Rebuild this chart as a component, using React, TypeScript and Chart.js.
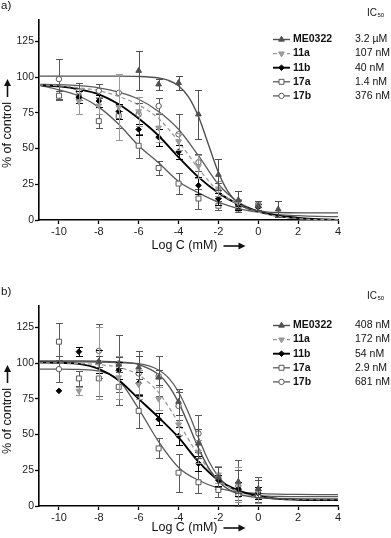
import React, { useEffect, useRef } from 'react';
import { Chart, registerables } from 'chart.js';

Chart.register(...registerables);

const FONT = '"Liberation Sans", Arial, Helvetica, sans-serif';

// ---------- shared axis / category data ----------
const SERIES_NAMES = ['ME0322', '11a', '11b', '17a', '17b'];
const X_TICKS = [-10, -8, -6, -4, -2, 0, 2, 4];
const Y_TICKS = [0, 25, 50, 75, 100, 125];
const PT_X = [-10, -9, -8, -7, -6, -5, -4, -3, -2, -1, 0, 1];
const CURVE_X = [-11, -10, -9, -8, -7, -6, -5, -4, -3, -2, -1, 0, 1, 2, 3, 4];
const FINE_X = [-11, -10, -9, -8, -7, -6, -5, -4.5, -4, -3.5, -3, -2.5, -2, -1.5, -1, -0.5, 0, 0.5, 1, 2, 3, 4];

// ---------- panel a ----------
const A_IC50 = ['3.2 µM', '107 nM', '40 nM', '1.4 nM', '376 nM'];
const A_ME_CURVE = [100.7, 100.7, 100.7, 100.7, 100.7, 100.5, 99.4, 97.7, 94, 86.2, 72.4, 52.9, 33.3, 19.5, 11.7, 7.9, 6.3, 5.5, 5.2, 5, 5, 5];
const A_11A_CURVE = [94.5, 94, 92.5, 90.5, 86.5, 80.5, 71, 55, 36, 20, 11, 5.5, 2.5, 1, 0.3, 0];
const A_11B_CURVE = [94.4, 93.5, 91.5, 88, 81, 71, 59, 44, 30, 19, 11, 6, 3, 1.5, 0.5, 0];
const A_17A_CURVE = [94.4, 91, 86.8, 79, 67, 52, 40, 27, 19, 12.5, 8, 5.5, 3.8, 3, 2.5, 2.3];
const A_17B_CURVE = [95, 94.7, 94, 92.5, 89.5, 84.5, 76, 63.5, 45, 25, 12.5, 6, 2.5, 1, 0.3, 0];

const A_ME = [null, null, null, null, 104.5, 95, 96, 74, 31.7, 14, 10, 7.5];
const A_ME_ERR = [0, 0, 0, 0, 13.5, 4, 5, 17, 11, 6, 3, 5.6];
const A_11A = [null, 83, 80, 79, 76, 64.6, 55, 37.6, 22, 12, 10, null];
const A_11A_ERR = [0, 9, 6, 23, 10, 10, 6, 8, 5, 3, 3, 0];
const A_11B = [null, 86, 83.3, 76, 63.4, 58, 47.7, 24.2, 14.8, 9, 9, null];
const A_11B_ERR = [0, 4, 4, 5, 4, 6, 5, 6, 4, 2, 2, 0];
const A_17A = [87, 86, 69.2, 72.7, 52, 36.4, 25.5, 15, 10, 8, 10, null];
const A_17A_ERR = [3, 4, 5, 8, 8.5, 5, 7.6, 7, 3, 2.5, 3, 0];
const A_17B = [98.6, 90, 90.4, 89, 74, 79.8, 60, 40.4, 20.6, 11, 11, null];
const A_17B_ERR = [14, 6, 5, 13, 8, 5.5, 14, 6, 5, 3, 2, 0];

// ---------- panel b ----------
const B_IC50 = ['408 nM', '172 nM', '54 nM', '2.9 nM', '681 nM'];
const B_ME_CURVE = [101.6, 101.6, 101.5, 101.3, 100.9, 99, 92, 84.3, 72.5, 57, 40.5, 26.8, 17.3, 11.6, 8.4, 6.7, 5.9, 5.4, 5.2, 5, 5, 5];
const B_11A_CURVE = [100.2, 100.1, 99.8, 99, 97, 91.7, 79.4, 58.3, 35.5, 18.5, 10, 6.4, 5.2, 4.7, 4.5, 4.5];
const B_11B_CURVE = [100.5, 100.2, 99.5, 96, 88, 75, 62, 48, 31, 18, 11, 7, 5, 4.4, 4.2, 4.2];
const B_17A_CURVE = [95.8, 95.8, 95.6, 94.5, 88, 68, 45, 27, 18, 12.5, 9.8, 8.8, 8.3, 8.1, 8, 8];
const B_17B_CURVE = [101, 101, 100.9, 100.7, 100.3, 99.7, 95.2, 89.7, 79.8, 65.2, 47.8, 31.8, 20.5, 13.7, 10, 8.2, 7.3, 6.9, 6.7, 6.5, 6.5, 6.5];

const B_ME = [null, null, 101, 99, 97, 90, 73, 43.8, 20, 17, 12, null];
const B_ME_ERR = [0, 0, 4, 5, 8, 5, 9, 10, 7, 8, 6, 0];
const B_11A = [null, 80.6, 100, 90, 85, 75, 57, 38, 22, 15, 10, null];
const B_11A_ERR = [0, 3, 25, 15, 10, 8, 7, 8, 6, 12, 8, 0];
const B_11B = [80.6, 108, 101, 95, 86, 60.8, 49, 29.8, 18, 12, 9, null];
const B_11B_ERR = [0, 3, 8, 6, 8, 4, 6, 5, 4, 5, 4, 0];
const B_17A = [115, 89.3, 89.3, 83.4, 66.6, 40.3, 23.3, 16.6, 11.2, 8, 7, null];
const B_17A_ERR = [13, 5, 12, 13, 12, 7, 13.4, 7.6, 5, 4, 4, 0];
const B_17B = [95.8, null, 108.6, 99.8, 92.8, 90.9, 70, 50.8, 20, 14, 11, null];
const B_17B_ERR = [9, 0, 19, 20, 16, 14, 10, 13, 8, 18, 9, 0];

// ---------- styles ----------
type Style = { color: string; dash: number[]; width: number; point: string; rot: number; r: number; fill: string };
const STYLES: Style[] = [
  { color: '#505050', dash: [], width: 1.4, point: 'triangle', rot: 0, r: 3.3, fill: '#505050' },
  { color: '#9a9a9a', dash: [4, 3], width: 1.3, point: 'triangle', rot: 180, r: 3.3, fill: '#9a9a9a' },
  { color: '#000000', dash: [], width: 1.9, point: 'rectRot', rot: 0, r: 2.8, fill: '#000000' },
  { color: '#5a5a5a', dash: [], width: 1.3, point: 'rect', rot: 0, r: 3.5, fill: '#ffffff' },
  { color: '#5a5a5a', dash: [], width: 1.3, point: 'circle', rot: 0, r: 2.7, fill: '#ffffff' },
];

const PANELS = [
  {
    label: 'a)',
    ic50: A_IC50,
    curves: [A_ME_CURVE, A_11A_CURVE, A_11B_CURVE, A_17A_CURVE, A_17B_CURVE],
    curveXs: [FINE_X, CURVE_X, CURVE_X, CURVE_X, CURVE_X],
    points: [A_ME, A_11A, A_11B, A_17A, A_17B],
    errors: [A_ME_ERR, A_11A_ERR, A_11B_ERR, A_17A_ERR, A_17B_ERR],
    padTop: 20, xAxisH: 34, padBottom: 15, xTitleGap: 26, icGap: 7,
  },
  {
    label: 'b)',
    ic50: B_IC50,
    curves: [B_ME_CURVE, B_11A_CURVE, B_11B_CURVE, B_17A_CURVE, B_17B_CURVE],
    curveXs: [FINE_X, CURVE_X, CURVE_X, CURVE_X, FINE_X],
    points: [B_ME, B_11A, B_11B, B_17A, B_17B],
    errors: [B_ME_ERR, B_11A_ERR, B_11B_ERR, B_17A_ERR, B_17B_ERR],
    padTop: 37, xAxisH: 30, padBottom: 2, xTitleGap: 22, icGap: 10,
  },
];

function drawMarker(ctx: CanvasRenderingContext2D, s: Style, x: number, y: number) {
  ctx.save();
  ctx.fillStyle = s.fill;
  ctx.strokeStyle = s.color;
  ctx.lineWidth = 1;
  ctx.setLineDash([]);
  ctx.beginPath();
  const r = s.r;
  if (s.point === 'triangle') {
    const d = s.rot === 180 ? -1 : 1;
    ctx.moveTo(x, y - d * r);
    ctx.lineTo(x + r * 0.866, y + d * r * 0.5);
    ctx.lineTo(x - r * 0.866, y + d * r * 0.5);
    ctx.closePath();
  } else if (s.point === 'rectRot') {
    ctx.moveTo(x, y - r);
    ctx.lineTo(x + r, y);
    ctx.lineTo(x, y + r);
    ctx.lineTo(x - r, y);
    ctx.closePath();
  } else if (s.point === 'rect') {
    const h = r * Math.SQRT1_2;
    ctx.rect(x - h, y - h, 2 * h, 2 * h);
  } else {
    ctx.arc(x, y, r, 0, Math.PI * 2);
  }
  ctx.fill();
  ctx.stroke();
  ctx.restore();
}

function drawArrow(ctx: CanvasRenderingContext2D, x1: number, y: number, x2: number) {
  ctx.save();
  ctx.strokeStyle = '#111';
  ctx.fillStyle = '#111';
  ctx.lineWidth = 1.6;
  ctx.beginPath();
  ctx.moveTo(x1, y);
  ctx.lineTo(x2 - 5, y);
  ctx.stroke();
  ctx.beginPath();
  ctx.moveTo(x2, y);
  ctx.lineTo(x2 - 7, y - 3.5);
  ctx.lineTo(x2 - 7, y + 3.5);
  ctx.closePath();
  ctx.fill();
  ctx.restore();
}

const errorBarPlugin = {
  id: 'errbars',
  beforeDatasetDraw(chart: any, args: any) {
    const ds = chart.data.datasets[args.index];
    if (!ds.errors) return;
    const ctx: CanvasRenderingContext2D = chart.ctx;
    const xs = chart.scales.x;
    const ys = chart.scales.y;
    ctx.save();
    ctx.strokeStyle = ds.errColor;
    ctx.lineWidth = 1;
    ds.data.forEach((p: any, i: number) => {
      const e = ds.errors[i];
      if (!e) return;
      const px = Math.round(xs.getPixelForValue(p.x)) + 0.5;
      const y1 = Math.round(ys.getPixelForValue(p.y + e)) + 0.5;
      const y2 = Math.round(ys.getPixelForValue(Math.max(0, p.y - e))) + 0.5;
      ctx.beginPath();
      ctx.moveTo(px, y1);
      ctx.lineTo(px, y2);
      ctx.moveTo(px - 3.5, y1);
      ctx.lineTo(px + 3.5, y1);
      ctx.moveTo(px - 3.5, y2);
      ctx.lineTo(px + 3.5, y2);
      ctx.stroke();
    });
    ctx.restore();
  },
};

const decoPlugin = {
  id: 'deco',
  afterDraw(chart: any) {
    const o = chart.options.plugins.deco;
    const ctx: CanvasRenderingContext2D = chart.ctx;
    const ca = chart.chartArea;
    ctx.save();
    ctx.fillStyle = '#111';
    ctx.textBaseline = 'middle';
    ctx.textAlign = 'left';
    ctx.font = `11.5px ${FONT}`;
    ctx.fillText(o.label, 1, ca.top - 14);

    // x title
    ctx.font = `12.5px ${FONT}`;
    ctx.textAlign = 'center';
    const tx = (ca.left + ca.right) / 2 - 4;
    const ty = ca.bottom + o.xTitleGap;
    const xt = 'Log C (mM)';
    ctx.fillText(xt, tx, ty);
    const w = ctx.measureText(xt).width;
    drawArrow(ctx, tx + w / 2 + 6, ty, tx + w / 2 + 28);

    // y title
    ctx.save();
    ctx.translate(7.5, ca.bottom - 85);
    ctx.rotate(-Math.PI / 2);
    const yt = '% of control';
    ctx.fillText(yt, 0, 0);
    const wy = ctx.measureText(yt).width;
    drawArrow(ctx, wy / 2 + 5, 0, wy / 2 + 23);
    ctx.restore();

    // legend
    const rowY0 = ca.top + 19.5;
    SERIES_NAMES.forEach((name, i) => {
      const y = rowY0 + i * 14.1;
      const s = STYLES[i];
      ctx.save();
      ctx.strokeStyle = s.color;
      ctx.lineWidth = s.width;
      ctx.setLineDash(s.dash);
      ctx.beginPath();
      ctx.moveTo(273, y);
      ctx.lineTo(290, y);
      ctx.stroke();
      ctx.restore();
      drawMarker(ctx, s, 281.5, y);
      ctx.fillStyle = '#111';
      ctx.textAlign = 'left';
      ctx.font = `bold 10.5px ${FONT}`;
      ctx.fillText(name, 293, y);
      ctx.font = `10.5px ${FONT}`;
      ctx.fillText(o.ic50[i], 355, y);
    });

    // IC50 header
    ctx.font = `10px ${FONT}`;
    ctx.textAlign = 'left';
    const iy = ca.top - o.icGap;
    ctx.fillText('IC', 367, iy);
    const icw = ctx.measureText('IC').width;
    ctx.font = `6px ${FONT}`;
    ctx.fillText('50', 367 + icw + 0.5, iy + 2.5);
    ctx.restore();
  },
};

function Panel({ cfg, top }: { cfg: any; top: number }) {
  const ref = useRef<HTMLCanvasElement>(null);
  useEffect(() => {
    const datasets: any[] = [];
    cfg.points.forEach((vals: (number | null)[], i: number) => {
      const s = STYLES[i];
      const data: any[] = [];
      const errs: number[] = [];
      PT_X.forEach((x, j) => {
        const v = vals[j];
        if (v != null) {
          data.push({ x, y: v });
          errs.push(cfg.errors[i][j]);
        }
      });
      datasets.push({
        type: 'scatter',
        label: SERIES_NAMES[i],
        data,
        errors: errs,
        errColor: s.color,
        showLine: false,
        pointStyle: s.point,
        pointRotation: s.rot,
        pointRadius: s.r,
        pointBackgroundColor: s.fill,
        pointBorderColor: s.color,
        pointBorderWidth: 1,
        borderColor: s.color,
        backgroundColor: s.fill,
      });
    });
    cfg.curves.forEach((vals: number[], i: number) => {
      const s = STYLES[i];
      const xs: number[] = cfg.curveXs[i];
      datasets.push({
        type: 'line',
        label: SERIES_NAMES[i] + ' fit',
        data: xs.map((x, j) => ({ x, y: vals[j] })),
        borderColor: s.color,
        borderWidth: s.width,
        borderDash: s.dash,
        pointRadius: 0,
        fill: false,
        cubicInterpolationMode: 'monotone',
      });
    });

    const chart = new Chart(ref.current as HTMLCanvasElement, {
      type: 'scatter',
      data: { datasets },
      plugins: [errorBarPlugin, decoPlugin],
      options: {
        animation: false,
        responsive: false,
        devicePixelRatio: 1,
        layout: { padding: { left: 0, right: 53, top: cfg.padTop, bottom: cfg.padBottom } },
        plugins: {
          legend: { display: false },
          tooltip: { enabled: false },
          deco: { label: cfg.label, ic50: cfg.ic50, xTitleGap: cfg.xTitleGap, icGap: cfg.icGap },
        } as any,
        scales: {
          x: {
            type: 'linear',
            min: -11,
            max: 4,
            afterBuildTicks: (scale: any) => {
              scale.ticks = X_TICKS.map((v) => ({ value: v }));
            },
            afterFit: (scale: any) => {
              scale.height = cfg.xAxisH;
            },
            grid: { display: true, drawOnChartArea: false, drawTicks: true, tickLength: 4, tickColor: '#000', tickWidth: 1.3 },
            border: { display: true, color: '#000', width: 1.6 },
            ticks: {
              autoSkip: false,
              maxRotation: 0,
              padding: 1,
              color: '#222',
              font: { family: FONT, size: 11 },
              callback: (v: any) => String(v),
            },
          },
          y: {
            type: 'linear',
            min: 0,
            max: 140,
            afterBuildTicks: (scale: any) => {
              scale.ticks = Y_TICKS.map((v) => ({ value: v }));
            },
            afterFit: (scale: any) => {
              scale.width = 39;
            },
            grid: { display: true, drawOnChartArea: false, drawTicks: true, tickLength: 4, tickColor: '#000', tickWidth: 1.3 },
            border: { display: true, color: '#000', width: 1.6 },
            ticks: {
              padding: 1,
              color: '#222',
              font: { family: FONT, size: 10.5 },
              callback: (v: any) => String(v),
            },
          },
        },
      } as any,
    });
    return () => chart.destroy();
  }, []);
  return (
    <canvas
      ref={ref}
      width={391}
      height={269}
      style={{ position: 'absolute', left: 0, top, width: 391, height: 269 }}
    />
  );
}

export default function App() {
  return (
    <div style={{ position: 'absolute', left: 0, top: 0, width: 391, height: 538, background: '#ffffff' }}>
      <Panel cfg={PANELS[0]} top={0} />
      <Panel cfg={PANELS[1]} top={269} />
    </div>
  );
}
